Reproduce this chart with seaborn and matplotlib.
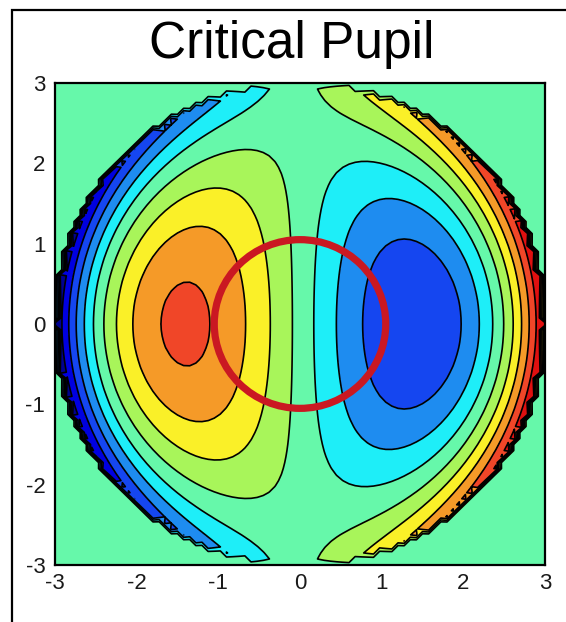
import numpy as np
import matplotlib
matplotlib.use("Agg")
import matplotlib.pyplot as plt
from matplotlib.patches import Circle, Rectangle
import seaborn as sns

# Pupil geometry and wavefront sampling
PUPIL_RADIUS = 3.0
GRID_POINTS = 81
PISTON = 0.025

# Contour levels of the coma wavefront (waves)
LEVELS = [-0.785, -0.611, -0.436, -0.262, -0.087, 0.087, 0.262, 0.436, 0.611, 0.785]

# Fill colour of each band, from the lowest band to the highest
BAND_COLORS = ["#000090", "#0000E0", "#1546F0", "#1E8CF0", "#1EEEF8", "#66F8AA",
               "#A8F55A", "#FAF028", "#F59A28", "#F04628", "#E01010"]

# Axis ticks
X_TICKS = [-3, -2, -1, 0, 1, 2, 3]
Y_TICKS = [-3, -2, -1, 0, 1, 2, 3]

# Critical pupil ring
RING_CENTER = (0.0, 0.0)
RING_RADIUS = 1.05

TITLE = "Critical Pupil"

sns.set_style("white")
plt.rcParams["font.family"] = ["Liberation Sans", "DejaVu Sans"]

# Coma wavefront W = x (3 rho^2 - 2) + piston over the unit pupil, zero outside
coords = np.linspace(X_TICKS[0], X_TICKS[-1], GRID_POINTS)
X, Y = np.meshgrid(coords, coords)
rho = np.hypot(X, Y) / PUPIL_RADIUS
xn = X / PUPIL_RADIUS
W = np.where(rho <= 1.0, xn * (3.0 * rho**2 - 2.0) + PISTON, 0.0)

fig = plt.figure(figsize=(5.66, 6.22), dpi=100)
ax = fig.add_axes([55 / 566, 57 / 622, 490 / 566, 482 / 622])

bounds = [-1.1] + LEVELS + [1.1]
ax.contourf(X, Y, W, levels=bounds, colors=BAND_COLORS)
ax.contour(X, Y, W, levels=LEVELS, colors="black", linewidths=1.2,
           linestyles="solid")

ring = Circle(RING_CENTER, RING_RADIUS, fill=False, edgecolor="#CA1822",
              linewidth=5.2, zorder=5)
ax.add_patch(ring)

ax.set_xlim(X_TICKS[0], X_TICKS[-1])
ax.set_ylim(Y_TICKS[0], Y_TICKS[-1])
ax.set_xticks(X_TICKS)
ax.set_yticks(Y_TICKS)
tick_font = ["Liberation Sans Narrow", "DejaVu Sans Condensed", "Liberation Sans"]
ax.set_xticklabels([str(t) for t in X_TICKS], family=tick_font, fontsize=16,
                   color="#1a1a1a")
ax.set_yticklabels([str(t) for t in Y_TICKS], family=tick_font, fontsize=16,
                   color="#1a1a1a")
ax.tick_params(axis="x", length=0, pad=6)
ax.tick_params(axis="y", length=0, pad=7)
for spine in ax.spines.values():
    spine.set_color("black")
    spine.set_linewidth(1.6)
    spine.set_zorder(6)

fig.text(292 / 566, 1 - 58 / 622, TITLE, ha="center", va="baseline",
         fontsize=37, color="black")

# Outer frame around the figure
frame = Rectangle((12 / 566, -0.1), 1.2, 1 - 10 / 622 + 0.1,
                  transform=fig.transFigure, fill=False, edgecolor="black",
                  linewidth=1.6, clip_on=False)
fig.patches.append(frame)

fig.savefig("out.png", dpi=100, facecolor="white")
